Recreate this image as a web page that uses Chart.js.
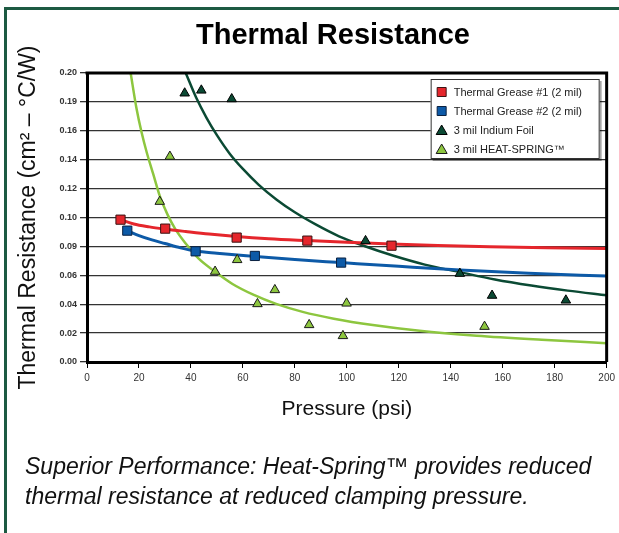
<!DOCTYPE html>
<html>
<head>
<meta charset="utf-8">
<script src="https://cdn.jsdelivr.net/npm/chart.js@4.4.1/dist/chart.umd.min.js"></script>
<style>
html,body{margin:0;padding:0;background:#fff;}
#wrap{position:relative;width:619px;height:533px;overflow:hidden;background:#fff;}
#chart{position:absolute;left:0;top:0;}
#frameTop{position:absolute;left:4px;top:7px;width:615px;height:3px;background:#1d5a42;}
#frameLeft{position:absolute;left:4px;top:7px;width:3px;height:526px;background:#1d5a42;}
#title{position:absolute;left:0;top:17px;width:666px;text-align:center;font:bold 29px "Liberation Sans",Arial,sans-serif;line-height:34px;color:#000;}
#caption{position:absolute;left:25px;top:451px;font:italic 23px "Liberation Sans",Arial,sans-serif;line-height:30px;color:#111;white-space:nowrap;}
</style>
</head>
<body>
<div id="wrap">
  <canvas id="chart" width="619" height="533"></canvas>
  <div id="frameTop"></div>
  <div id="frameLeft"></div>
  <div id="title">Thermal Resistance</div>
  <div id="caption">Superior Performance: Heat-Spring™ provides reduced<br>thermal resistance at reduced clamping pressure.</div>
</div>
<script>
// ---------- data ----------
const seriesNames = ['Thermal Grease #1 (2 mil)', 'Thermal Grease #2 (2 mil)', '3 mil Indium Foil', '3 mil HEAT-SPRING™'];
const yTickLabels = ['0.00','0.02','0.04','0.06','0.09','0.10','0.12','0.14','0.16','0.19','0.20'];
const xTickLabels = ['0','20','40','60','80','100','120','140','160','180','200'];

// measured points
const grease1X = [12.9, 30.1, 57.6, 84.8, 117.2];
const grease1Y = [0.0985, 0.0923, 0.0861, 0.0840, 0.0805];
const grease2X = [15.5, 41.8, 64.6, 97.8];
const grease2Y = [0.0909, 0.0766, 0.0734, 0.0688];
const indiumX = [37.6, 44.0, 55.7, 107.2, 143.5, 155.9, 184.3];
const indiumY = [0.186, 0.188, 0.182, 0.0838, 0.0612, 0.0460, 0.0427];
const springX = [28.0, 31.9, 49.3, 57.8, 65.6, 72.3, 85.5, 98.5, 99.9, 153.0];
const springY = [0.111, 0.1422, 0.0626, 0.0707, 0.0402, 0.0499, 0.0257, 0.0181, 0.0406, 0.0245];

// trend curves
const grease1TrendX = [12.9, 18, 24, 30, 38, 47, 57.6, 70, 85, 100, 117, 135, 155, 177, 200];
const grease1TrendY = [0.0985, 0.0955, 0.0935, 0.0920, 0.0903, 0.0885, 0.0868, 0.0853, 0.0840, 0.0828, 0.0816, 0.0806, 0.0798, 0.0791, 0.0785];
const grease2TrendX = [15.5, 20, 25, 30, 36, 41.8, 50, 64.6, 80, 97.8, 120, 143.5, 170, 200];
const grease2TrendY = [0.0909, 0.0875, 0.0845, 0.0820, 0.0790, 0.0768, 0.0753, 0.0731, 0.0709, 0.0688, 0.0662, 0.0636, 0.0614, 0.0595];
const indiumTrendX = [38, 42, 46, 50, 55, 60, 66, 73, 80, 88, 97, 107, 118, 130, 143.5, 157, 171, 185, 200];
const indiumTrendY = [0.200, 0.183, 0.169, 0.157, 0.144, 0.1336, 0.1228, 0.1123, 0.1036, 0.0952, 0.0870, 0.0801, 0.0735, 0.0674, 0.0622, 0.0571, 0.0529, 0.0494, 0.0462];
const springTrendX = [16.8, 19, 21, 23, 25.5, 28, 31, 34, 38, 43, 49.3, 56, 64, 72.8, 83, 95, 110, 128, 150, 175, 200];
const springTrendY = [0.200, 0.176, 0.159, 0.145, 0.130, 0.115, 0.102, 0.092, 0.082, 0.0715, 0.0625, 0.0540, 0.0466, 0.0402, 0.0347, 0.0300, 0.0256, 0.0216, 0.0182, 0.0154, 0.0130];

// ---------- build ----------
const pts = (xs, ys) => xs.map((x, i) => ({x: x, y: ys[i]}));
const colors = {
  red: '#e5262c', blue: '#0d5aa7', dark: '#0b4a34', light: '#8dc63f'
};

function trend(xs, ys, color, w) {
  return {
    type: 'line', data: pts(xs, ys), borderColor: color, borderWidth: w,
    pointRadius: 0, showLine: true, cubicInterpolationMode: 'monotone',
    fill: false, order: 2
  };
}
function marks(label, xs, ys, fill, border, style, r) {
  return {
    type: 'scatter', label: label, data: pts(xs, ys), backgroundColor: fill,
    borderColor: border, borderWidth: 1, pointStyle: style, pointRadius: r,
    pointHoverRadius: r, showLine: false, order: 1
  };
}

const datasets = [
  trend(grease1TrendX, grease1TrendY, colors.red, 3),
  trend(grease2TrendX, grease2TrendY, colors.blue, 3),
  trend(indiumTrendX, indiumTrendY, colors.dark, 2.5),
  trend(springTrendX, springTrendY, colors.light, 2.5),
  marks(seriesNames[0], grease1X, grease1Y, colors.red, '#3a1414', 'rect', 6.5),
  marks(seriesNames[1], grease2X, grease2Y, colors.blue, '#0a2140', 'rect', 6.5),
  marks(seriesNames[2], indiumX, indiumY, colors.dark, '#000', 'triangle', 5.5),
  marks(seriesNames[3], springX, springY, colors.light, '#1a1a1a', 'triangle', 5.5)
];

const legendItems = [
  {name: seriesNames[0], fill: colors.red, border: '#3a1414', shape: 'rect'},
  {name: seriesNames[1], fill: colors.blue, border: '#0a2140', shape: 'rect'},
  {name: seriesNames[2], fill: colors.dark, border: '#000', shape: 'tri'},
  {name: seriesNames[3], fill: colors.light, border: '#1a1a1a', shape: 'tri'}
];

const framePlugin = {
  id: 'frame',
  afterDatasetsDraw(chart) {
    const {ctx, chartArea: a} = chart;
    ctx.save();
    ctx.strokeStyle = '#000';
    ctx.lineWidth = 3;
    ctx.beginPath();
    ctx.moveTo(a.left - 1.5, a.top);
    ctx.lineTo(a.right, a.top);
    ctx.lineTo(a.right, a.bottom);
    ctx.stroke();
    ctx.restore();
  },
  afterDraw(chart) {
    const {ctx, chartArea: a} = chart;
    const lw = 169, lh = 80;
    const lx = a.right - 176, ly = a.top + 6;
    ctx.save();
    ctx.fillStyle = 'rgba(0,0,0,0.35)';
    ctx.fillRect(lx + 2, ly + 2, lw, lh);
    ctx.fillStyle = '#fff';
    ctx.fillRect(lx, ly, lw, lh);
    ctx.strokeStyle = '#333';
    ctx.lineWidth = 1;
    ctx.strokeRect(lx + 0.5, ly + 0.5, lw - 1, lh - 1);
    ctx.font = '11px "Liberation Sans", Arial, sans-serif';
    ctx.textBaseline = 'middle';
    legendItems.forEach((it, i) => {
      const cy = ly + 13 + i * 19;
      const cx = lx + 11;
      ctx.fillStyle = it.fill;
      ctx.strokeStyle = it.border;
      ctx.lineWidth = 1;
      ctx.beginPath();
      if (it.shape === 'rect') {
        ctx.rect(cx - 4.5, cy - 4.5, 9, 9);
      } else {
        ctx.moveTo(cx, cy - 5);
        ctx.lineTo(cx + 5.5, cy + 4.5);
        ctx.lineTo(cx - 5.5, cy + 4.5);
        ctx.closePath();
      }
      ctx.fill();
      ctx.stroke();
      ctx.fillStyle = '#222';
      ctx.fillText(it.name, lx + 23, cy + 0.5);
    });
    ctx.restore();
  }
};

new Chart(document.getElementById('chart'), {
  type: 'scatter',
  data: {datasets: datasets},
  options: {
    responsive: false,
    animation: false,
    events: [],
    layout: {padding: {left: 0, top: 73, right: 11, bottom: 111}},
    plugins: {legend: {display: false}, title: {display: false}, tooltip: {enabled: false}},
    scales: {
      x: {
        type: 'linear', min: 0, max: 200,
        afterFit: s => { s.height = 60; },
        ticks: {stepSize: 20, padding: 4, color: '#333', font: {family: '"Liberation Sans", Arial, sans-serif', size: 10},
          callback: (v, i) => xTickLabels[i]},
        grid: {drawOnChartArea: false, drawTicks: true, tickLength: 6, color: '#000', lineWidth: 1},
        border: {display: true, color: '#000', width: 3},
        title: {display: true, text: 'Pressure (psi)', color: '#111', padding: {top: 0, bottom: 0},
          font: {family: '"Liberation Sans", Arial, sans-serif', size: 21}}
      },
      y: {
        type: 'linear', min: 0, max: 0.2,
        afterFit: s => { s.width = 87; },
        ticks: {stepSize: 0.02, padding: 3, color: '#333', font: {family: '"Liberation Sans", Arial, sans-serif', size: 9, weight: 'bold'},
          callback: (v, i) => yTickLabels[i]},
        grid: {drawOnChartArea: true, drawTicks: true, tickLength: 7, color: '#333', lineWidth: 1.3},
        border: {display: true, color: '#000', width: 3},
        title: {display: true, text: 'Thermal Resistance (cm² – °C/W)', color: '#111', padding: {top: 15, bottom: 0},
          font: {family: '"Liberation Sans", Arial, sans-serif', size: 23}}
      }
    }
  },
  plugins: [framePlugin]
});
</script>
</body>
</html>
